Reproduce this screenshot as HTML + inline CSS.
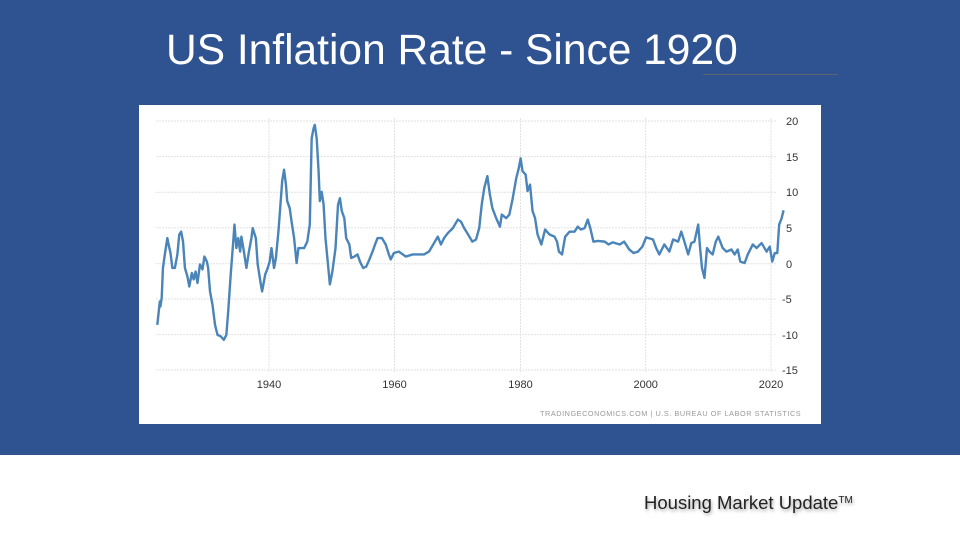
<!DOCTYPE html>
<html><head><meta charset="utf-8"><style>
html,body{margin:0;padding:0;}
body{width:960px;height:540px;position:relative;overflow:hidden;background:#fff;font-family:"Liberation Sans",sans-serif;}
#blue{position:absolute;left:0;top:0;width:960px;height:455px;background:#2f5291;}
#title{position:absolute;left:166px;top:27px;font-size:42.5px;color:#fff;white-space:nowrap;}
#uline{position:absolute;left:703px;top:74px;width:135px;height:1px;background:#5d6470;}
#chart{position:absolute;left:139px;top:105px;width:682px;height:319px;background:#fff;}
#foot{position:absolute;left:644px;top:492px;font-size:18.5px;color:#222;white-space:nowrap;text-shadow:1px 2px 3px rgba(0,0,0,0.35);}
#foot sup{font-size:10px;vertical-align:6px;}
</style></head><body>
<div id="blue"></div>
<div id="title">US Inflation Rate - Since 1920</div>
<div id="uline"></div>
<div id="chart"></div>
<svg width="960" height="540" style="position:absolute;left:0;top:0">
<g stroke="#e2e2e2" stroke-width="1" stroke-dasharray="2,1">
<line x1="156" x2="776" y1="121" y2="121"/><line x1="156" x2="776" y1="156.6" y2="156.6"/><line x1="156" x2="776" y1="192.2" y2="192.2"/><line x1="156" x2="776" y1="227.8" y2="227.8"/><line x1="156" x2="776" y1="263.7" y2="263.7"/><line x1="156" x2="776" y1="299" y2="299"/><line x1="156" x2="776" y1="334.6" y2="334.6"/><line x1="156" x2="776" y1="370" y2="370"/>
<line x1="269" x2="269" y1="118" y2="372"/><line x1="394.5" x2="394.5" y1="118" y2="372"/><line x1="520.5" x2="520.5" y1="118" y2="372"/><line x1="645.7" x2="645.7" y1="118" y2="372"/><line x1="771" x2="771" y1="118" y2="372"/>
</g>
<g font-size="11" fill="#333">
<text x="786" y="125">20</text><text x="786" y="161">15</text><text x="786" y="196">10</text><text x="786" y="232">5</text><text x="786" y="268">0</text><text x="782" y="303">-5</text><text x="782" y="339">-10</text><text x="782" y="374">-15</text>
<g text-anchor="middle"><text x="269" y="388">1940</text><text x="394.5" y="388">1960</text><text x="520.5" y="388">1980</text><text x="645.7" y="388">2000</text><text x="771" y="388">2020</text></g>
</g>
<text x="540" y="416" font-size="7.3" fill="#999" letter-spacing="0.55">TRADINGECONOMICS.COM | U.S. BUREAU OF LABOR STATISTICS</text>
<g transform="translate(269,263.7) scale(6.275,-7.12) translate(-1940,0)">
<polyline fill="none" stroke="#4a84b8" stroke-width="2.4" vector-effect="non-scaling-stroke" stroke-linejoin="round" points="
1922.2,-8.6 1922.6,-5.3 1922.7,-6 1922.9,-4.8 1923.1,-0.6 1923.4,1.3 1923.8,3.6 1924.0,2.7 1924.3,1.5 1924.6,-0.6 1925.0,-0.6 1925.4,1.3 1925.7,4.1 1926.0,4.5 1926.3,3.1 1926.6,-0.6 1927.0,-1.8 1927.3,-3.2 1927.7,-1.3 1928.0,-2.2 1928.3,-1.1 1928.6,-2.7 1929.0,-0.1 1929.4,-0.8 1929.7,1.0 1930.1,0.3 1930.3,-0.6 1930.6,-3.9 1931.0,-5.8 1931.4,-8.6 1931.8,-10 1932.3,-10.2 1932.8,-10.7 1933.2,-10 1933.5,-6.7 1933.9,-1.5 1934.3,3.1 1934.5,5.5 1934.8,2.2 1935.1,3.6 1935.4,1.7 1935.6,3.8 1936.0,1.7 1936.4,-0.6 1936.8,1.7 1937.2,3.6 1937.4,5 1937.9,3.6 1938.2,-0.1 1938.7,-2.9 1938.9,-3.9 1939.4,-1.5 1939.8,-0.6 1940.1,0.3 1940.4,2.2 1940.8,-0.6 1941.1,0.8 1941.5,4.5 1941.9,9.2 1942.1,11.6 1942.4,13.2 1942.7,11.1 1942.9,8.8 1943.3,7.8 1943.6,5.9 1944.0,3.6 1944.4,0.1 1944.7,2.2 1945.1,2.2 1945.6,2.2 1946.1,3.1 1946.5,5.5 1946.8,17.6 1947.1,19 1947.3,19.5 1947.6,17.6 1947.9,13 1948.1,8.8 1948.4,10.1 1948.7,8.3 1949.0,3.6 1949.4,-0.1 1949.7,-2.9 1950.1,-1.1 1950.6,2.2 1951.0,8.3 1951.3,9.2 1951.6,7.4 1952.0,6.4 1952.3,3.6 1952.8,2.7 1953.1,0.8 1953.6,1.0 1954.1,1.3 1954.5,0.3 1955.0,-0.6 1955.5,-0.4 1956.0,0.6 1956.5,1.7 1956.9,2.7 1957.3,3.6 1958.0,3.6 1958.6,2.7 1959.1,1.3 1959.4,0.6 1959.9,1.5 1960.7,1.7 1961.8,1.0 1962.9,1.3 1963.9,1.3 1964.7,1.3 1965.5,1.7 1966.3,2.9 1966.9,3.8 1967.4,2.7 1967.9,3.6 1968.5,4.3 1969.3,5 1970.1,6.2 1970.6,5.9 1971.1,5 1971.6,4.3 1972.4,3.1 1973.0,3.4 1973.5,5 1973.9,8.3 1974.3,10.6 1974.8,12.3 1975.2,9.7 1975.6,7.8 1976.2,6.4 1976.8,5.2 1977.1,6.9 1977.8,6.4 1978.3,6.9 1978.8,9 1979.4,12 1979.8,13.4 1980.1,14.8 1980.4,13 1980.9,12.5 1981.2,10.2 1981.6,11.1 1982.0,7.4 1982.4,6.4 1982.8,4.1 1983.4,2.7 1984.0,4.8 1984.7,4.1 1985.5,3.8 1985.9,3.1 1986.2,1.7 1986.7,1.3 1987.2,3.8 1987.9,4.5 1988.7,4.5 1989.2,5.2 1989.7,4.8 1990.3,5 1990.8,6.2 1991.2,5 1991.7,3.1 1992.4,3.2 1993.5,3.1 1994.1,2.7 1994.8,3.0 1995.9,2.7 1996.6,3.1 1997.4,2.0 1998.1,1.5 1998.8,1.7 1999.5,2.4 2000.1,3.7 2001.2,3.4 2001.7,2.2 2002.2,1.3 2003.0,2.7 2003.8,1.7 2004.4,3.4 2005.2,3.1 2005.7,4.5 2006.2,3.1 2006.8,1.3 2007.3,2.9 2007.8,3.1 2008.4,5.5 2008.7,2.2 2009.0,-0.6 2009.4,-2.0 2009.8,2.2 2010.2,1.7 2010.7,1.3 2011.2,3.1 2011.6,3.8 2012.3,2.2 2012.9,1.7 2013.7,2.0 2014.2,1.3 2014.7,2.0 2015.1,0.3 2015.8,0.1 2016.3,1.3 2017.1,2.7 2017.7,2.2 2018.5,2.9 2019.3,1.7 2019.8,2.4 2020.2,0.3 2020.6,1.5 2021.0,1.5 2021.3,5.5 2021.7,6.4 2022.0,7.5"/>
</g>
</svg>
<div id="foot">Housing Market Update<sup>TM</sup></div>
</body></html>
